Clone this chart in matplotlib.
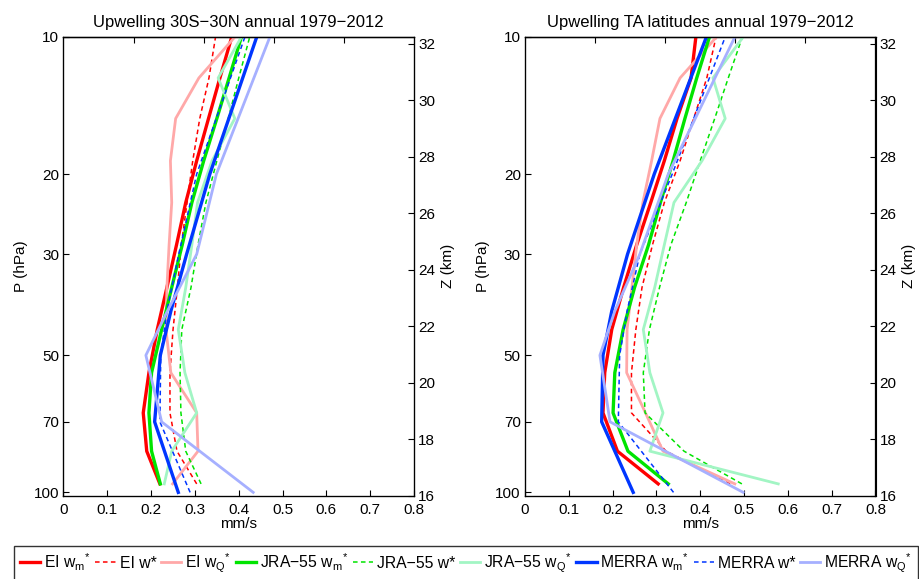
import numpy as np
import matplotlib
matplotlib.use("Agg")
import matplotlib.pyplot as plt
from matplotlib.lines import Line2D

plt.rcParams['font.family'] = ['Liberation Sans', 'DejaVu Sans']
plt.rcParams['mathtext.fontset'] = 'custom'
plt.rcParams['mathtext.rm'] = 'Liberation Sans'
plt.rcParams['mathtext.it'] = 'Liberation Sans:italic'

# ---------------- data ----------------
p_era = [95.8, 81.2, 66.9, 54.6, 43.9, 35.5, 28.6, 23.1, 18.7, 15.1, 12.3, 10.0]
p_merra = [100, 70, 50, 40, 30, 20, 10]

# 30S-30N
ei_wm_30 = [0.220, 0.190, 0.182, 0.195, 0.214, 0.236, 0.258, 0.279, 0.304, 0.331, 0.357, 0.384]
ei_w_30 = [0.304, 0.259, 0.243, 0.243, 0.250, 0.260, 0.269, 0.282, 0.295, 0.311, 0.332, 0.347]
ei_wq_30 = [0.249, 0.307, 0.304, 0.245, 0.234, 0.236, 0.241, 0.247, 0.244, 0.256, 0.309, 0.391]
jra_wm_30 = [0.221, 0.201, 0.195, 0.201, 0.224, 0.247, 0.271, 0.293, 0.320, 0.350, 0.378, 0.406]
jra_w_30 = [0.314, 0.279, 0.268, 0.266, 0.270, 0.291, 0.307, 0.325, 0.350, 0.376, 0.400, 0.425]
jra_wq_30 = [0.230, 0.247, 0.304, 0.277, 0.262, 0.279, 0.293, 0.306, 0.339, 0.391, 0.353, 0.406]
merra_wm_30 = [0.262, 0.208, 0.221, 0.245, 0.281, 0.334, 0.441]
merra_w_30 = [0.289, 0.220, 0.222, 0.236, 0.263, 0.304, 0.414]
merra_wq_30 = [0.433, 0.224, 0.188, 0.237, 0.304, 0.349, 0.471]

# TA latitudes
ei_wm_ta = [0.304, 0.211, 0.178, 0.182, 0.198, 0.225, 0.255, 0.287, 0.318, 0.347, 0.379, 0.390]
ei_w_ta = [0.468, 0.322, 0.243, 0.243, 0.253, 0.267, 0.291, 0.318, 0.354, 0.385, 0.415, 0.436]
ei_wq_ta = [0.479, 0.315, 0.275, 0.232, 0.233, 0.244, 0.255, 0.269, 0.289, 0.308, 0.354, 0.437]
jra_wm_ta = [0.327, 0.235, 0.201, 0.205, 0.224, 0.250, 0.282, 0.309, 0.338, 0.365, 0.392, 0.421]
jra_w_ta = [0.495, 0.363, 0.274, 0.270, 0.284, 0.307, 0.333, 0.368, 0.400, 0.433, 0.464, 0.496]
jra_wq_ta = [0.578, 0.285, 0.315, 0.285, 0.270, 0.296, 0.318, 0.340, 0.404, 0.457, 0.429, 0.498]
merra_wm_ta = [0.247, 0.175, 0.178, 0.198, 0.234, 0.295, 0.414]
merra_w_ta = [0.339, 0.213, 0.216, 0.233, 0.262, 0.336, 0.457]
merra_wq_ta = [0.498, 0.194, 0.171, 0.205, 0.262, 0.327, 0.479]

titles = ["Upwelling 30S\u221230N annual 1979\u22122012",
          "Upwelling TA latitudes annual 1979\u22122012"]
p_ticks = [10, 20, 30, 50, 70, 100]
z_ticks = [16, 18, 20, 22, 24, 26, 28, 30, 32]
x_ticks = [0, 0.1, 0.2, 0.3, 0.4, 0.5, 0.6, 0.7, 0.8]

labels = ['EI $\\mathrm{w_m}{}^{*}$', 'EI w*', 'EI $\\mathrm{w_Q}{}^{*}$',
          'JRA\u221255 $\\mathrm{w_m}{}^{*}$', 'JRA\u221255 w*', 'JRA\u221255 $\\mathrm{w_Q}{}^{*}$',
          'MERRA $\\mathrm{w_m}{}^{*}$', 'MERRA w*', 'MERRA $\\mathrm{w_Q}{}^{*}$']

# ---------------- styles ----------------
RED, PINK = '#ff0000', '#ffa8a8'
GREEN, MINT = '#00e400', '#a2f5c4'
BLUE, LBLUE = '#0036ff', '#a6b0ff'
styles = [
    dict(color=RED, lw=2.4, ls='-'),
    dict(color=RED, lw=1.1, ls=(0, (3, 2.2))),
    dict(color=PINK, lw=2.0, ls='-'),
    dict(color=GREEN, lw=2.4, ls='-'),
    dict(color=GREEN, lw=1.1, ls=(0, (3, 2.2))),
    dict(color=MINT, lw=2.0, ls='-'),
    dict(color=BLUE, lw=2.4, ls='-'),
    dict(color=BLUE, lw=1.1, ls=(0, (3, 2.2))),
    dict(color=LBLUE, lw=2.0, ls='-'),
]

panels = [
    [ei_wm_30, ei_w_30, ei_wq_30, jra_wm_30, jra_w_30, jra_wq_30, merra_wm_30, merra_w_30, merra_wq_30],
    [ei_wm_ta, ei_w_ta, ei_wq_ta, jra_wm_ta, jra_w_ta, jra_wq_ta, merra_wm_ta, merra_w_ta, merra_wq_ta],
]
levels = [p_era, p_era, p_era, p_era, p_era, p_era, p_merra, p_merra, p_merra]

fig = plt.figure(figsize=(9.2, 5.79), dpi=100)
W, H = 920, 579
FS = 11
pbot = 1000 * np.exp(-16 / 7.0)

lefts = [63.5, 525]
for i, left in enumerate(lefts):
    ax = fig.add_axes([left / W, (H - 495.7) / H, 350.5 / W, 458.7 / H])
    for series, lev, st in zip(panels[i], levels, styles):
        ax.plot(series, lev, **st)
    ax.set_yscale('log')
    ax.set_ylim(pbot, 10)
    ax.set_xlim(0, 0.8)
    ax.set_yticks(p_ticks)
    ax.set_yticklabels([str(t) for t in p_ticks])
    ax.yaxis.set_minor_locator(matplotlib.ticker.NullLocator())
    ax.set_xticks(x_ticks)
    ax.set_xticklabels(['0'] + ['%.1f' % t for t in x_ticks[1:]])
    ax.tick_params(direction='in', length=4.5, width=0.8, labelsize=FS, pad=3)
    ax.tick_params(axis='x', pad=5)
    ax.set_ylabel('P (hPa)', fontsize=FS, labelpad=4)
    ax.set_xlabel('mm/s', fontsize=FS, labelpad=0)
    ax.set_title(titles[i], fontsize=12, pad=7)
    for s in ax.spines.values():
        s.set_linewidth(0.9)
    # top ticks (secondary axis, 5 intervals)
    sec = ax.secondary_xaxis('top', functions=(lambda x: x / 0.8, lambda x: x * 0.8))
    sec.set_xticks([0.2, 0.4, 0.6, 0.8])
    sec.set_xticklabels([])
    sec.tick_params(direction='in', length=4.5, width=0.8)
    sec.spines['top'].set_linewidth(0.9)
    ax2 = ax.twinx()
    ax2.set_yscale('log')
    ax2.set_ylim(pbot, 10)
    ax2.set_yticks([1000 * np.exp(-z / 7.0) for z in z_ticks])
    ax2.set_yticklabels([str(z) for z in z_ticks])
    ax2.yaxis.set_minor_locator(matplotlib.ticker.NullLocator())
    ax2.tick_params(direction='in', length=4.5, width=0.8, labelsize=FS, pad=3)
    ax2.set_ylabel('Z (km)', fontsize=FS, labelpad=4)

handles = [Line2D([], [], **st) for st in styles]
leg = fig.legend(handles, labels, loc='upper left', bbox_to_anchor=(14.3 / W, 1 - 545.7 / H),
                 ncol=9, fontsize=11.3, frameon=True, fancybox=False, handlelength=1.3,
                 handletextpad=0.25, columnspacing=0.28, borderpad=0.35, borderaxespad=0)
leg.get_frame().set_edgecolor('black')
leg.get_frame().set_linewidth(1.0)

fig.savefig('out.png', dpi=100)
